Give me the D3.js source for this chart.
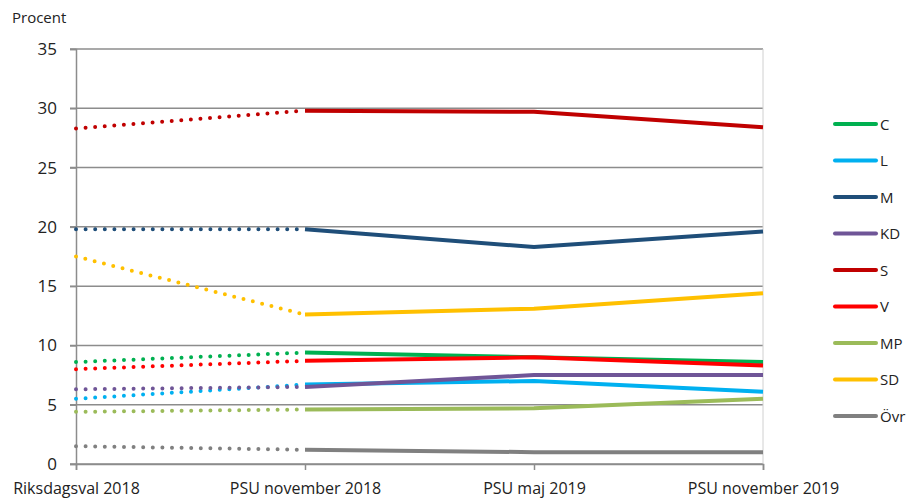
<!DOCTYPE html>
<html>
<head>
<meta charset="utf-8">
<script src="https://cdn.jsdelivr.net/npm/d3@7"></script>
<style>
body { margin: 0; background: #fff; }
svg text { font-family: "Open Sans", sans-serif; fill: #222; }
</style>
</head>
<body>
<svg width="910" height="500"></svg>
<script>
var categories = ['Riksdagsval 2018', 'PSU november 2018', 'PSU maj 2019', 'PSU november 2019'];
var yTicks = [0, 5, 10, 15, 20, 25, 30, 35];

var parties = ['C', 'L', 'M', 'KD', 'S', 'V', 'MP', 'SD', 'Övr'];
var colors = ['#00b050', '#00b0f0', '#1f4e79', '#6f5597', '#c00000', '#ff0000', '#9bbb59', '#ffc000', '#808080'];

var valC   = [8.6, 9.4, 9.0, 8.6];
var valL   = [5.5, 6.7, 7.0, 6.1];
var valM   = [19.8, 19.8, 18.3, 19.6];
var valKD  = [6.3, 6.5, 7.5, 7.5];
var valS   = [28.3, 29.8, 29.7, 28.4];
var valV   = [8.0, 8.7, 9.0, 8.3];
var valMP  = [4.4, 4.6, 4.7, 5.5];
var valSD  = [17.5, 12.6, 13.1, 14.4];
var valOvr = [1.5, 1.2, 1.0, 1.0];

var values = [valC, valL, valM, valKD, valS, valV, valMP, valSD, valOvr];

var svg = d3.select('svg');

var xScale = d3.scalePoint().domain(categories).range([76, 763]);
var yScale = d3.scaleLinear().domain([0, 35]).range([464, 49]);

// gridlines
svg.append('g')
    .selectAll('line')
    .data(yTicks)
    .enter()
    .append('line')
    .attr('x1', 70).attr('x2', 763)
    .attr('y1', function(d){ return yScale(d); })
    .attr('y2', function(d){ return yScale(d); })
    .attr('stroke', '#8c8c8c')
    .attr('stroke-width', 1.5);

// right border
svg.append('line')
    .attr('x1', 763).attr('x2', 763).attr('y1', yScale(35)).attr('y2', yScale(0))
    .attr('stroke', '#d0d0d0').attr('stroke-width', 1);

// y axis
var yAxis = svg.append('g').attr('transform', 'translate(76,0)')
    .call(d3.axisLeft(yScale).tickValues(yTicks).tickSize(6).tickPadding(13));
yAxis.select('.domain').attr('stroke', '#8c8c8c').attr('stroke-width', 1.5);
yAxis.selectAll('.tick line').attr('stroke', '#8c8c8c').attr('stroke-width', 1.5);
yAxis.selectAll('text').style('font-size', '17px').attr('fill', '#222');

// x axis
var xAxis = svg.append('g').attr('transform', 'translate(0,464)')
    .call(d3.axisBottom(xScale).tickSize(6).tickPadding(13));
xAxis.select('.domain').attr('stroke', '#8c8c8c').attr('stroke-width', 1.5);
xAxis.selectAll('.tick line').attr('stroke', '#8c8c8c').attr('stroke-width', 1.5);
xAxis.selectAll('text').style('font-size', '16px').attr('fill', '#222');

svg.append('text')
    .attr('x', 12).attr('y', 23)
    .style('font-size', '15px')
    .text('Procent');

var line = d3.line()
    .x(function(d){ return xScale(d.cat); })
    .y(function(d){ return yScale(d.v); });

var series = parties.map(function(p, i){
    return {
        name: p, color: colors[i],
        pts: values[i].map(function(v, j){ return {cat: categories[j], v: v}; })
    };
});

// dotted part: election -> first poll
svg.append('g').selectAll('path')
    .data(series)
    .enter()
    .append('path')
    .attr('d', function(d){ return line(d.pts.slice(0, 2)); })
    .attr('fill', 'none')
    .attr('stroke', function(d){ return d.color; })
    .attr('stroke-width', 4)
    .attr('stroke-linecap', 'round')
    .attr('stroke-dasharray', '0,9.6');

// solid part
svg.append('g').selectAll('path')
    .data(series)
    .enter()
    .append('path')
    .attr('d', function(d){ return line(d.pts.slice(1)); })
    .attr('fill', 'none')
    .attr('stroke', function(d){ return d.color; })
    .attr('stroke-width', 4)
    .attr('stroke-linejoin', 'round');

// legend
var legend = svg.append('g').selectAll('g')
    .data(series)
    .enter()
    .append('g')
    .attr('transform', function(d, i){ return 'translate(835,' + (124 + i * 36.5) + ')'; });

legend.append('line')
    .attr('x1', 0).attr('x2', 41)
    .attr('stroke', function(d){ return d.color; })
    .attr('stroke-width', 4)
    .attr('stroke-linecap', 'round');

legend.append('text')
    .attr('x', 45).attr('y', 5.5)
    .style('font-size', '15px')
    .text(function(d){ return d.name; });
</script>
</body>
</html>
